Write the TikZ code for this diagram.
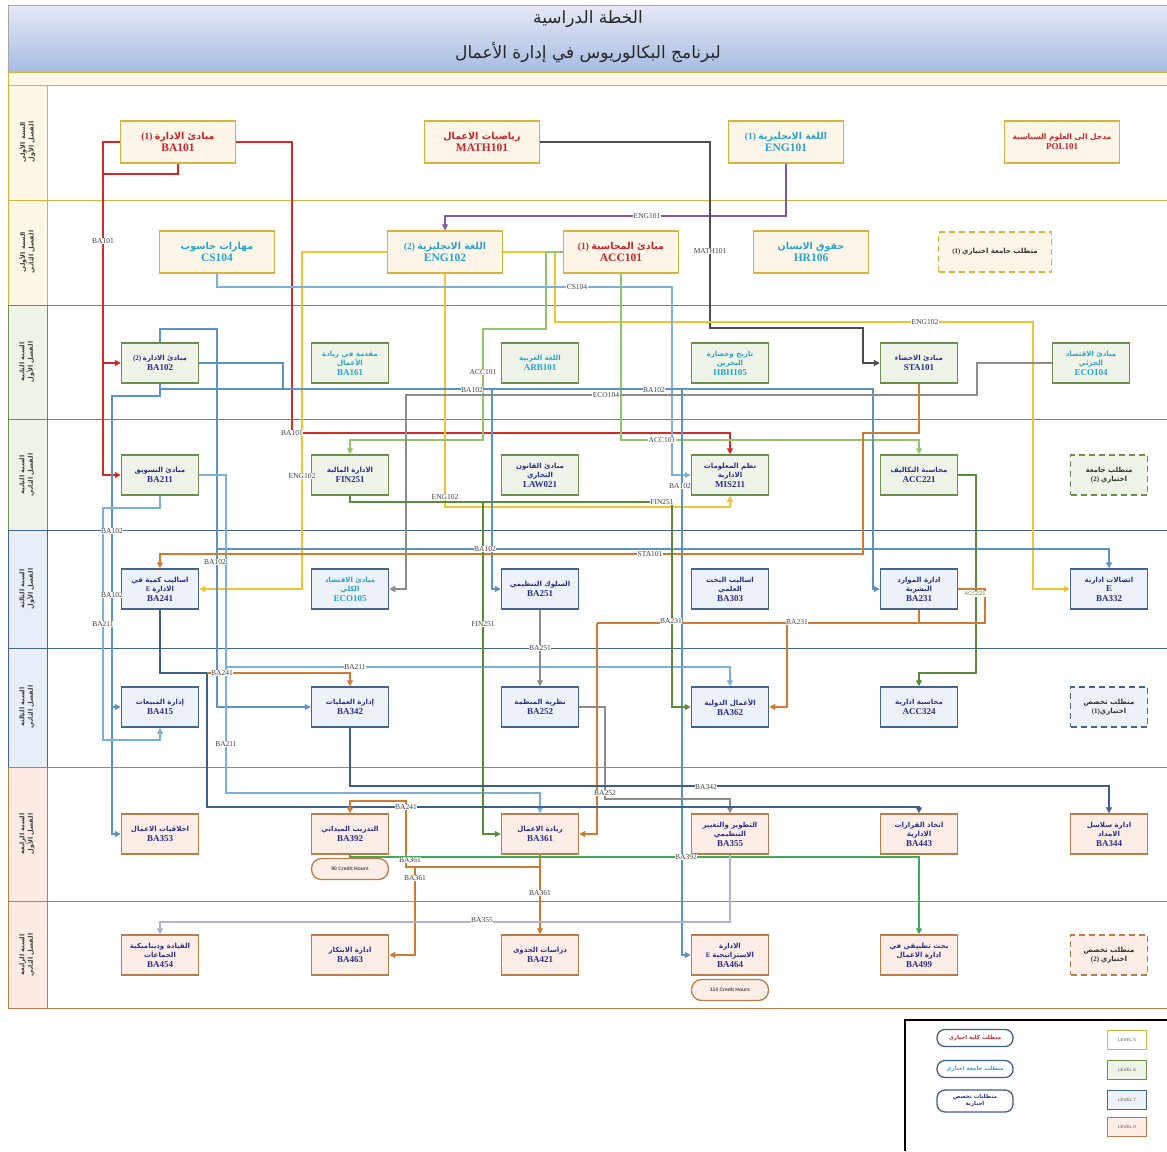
\documentclass[tikz,border=0pt]{standalone}
\usepackage{fontspec}
\setmainfont{Liberation Serif}
\newfontfamily\arfont[Script=Arabic]{DejaVu Sans}
\newfontfamily\lsans{Liberation Sans}
\TeXXeTstate=1
\usetikzlibrary{arrows.meta,shapes.geometric}
\newcommand{\arb}[1]{{\arfont\beginR #1\endR}}
\newcommand{\cdB}{\fontsize{11.5}{13}\selectfont}
\newcommand{\cdS}{\fontsize{9}{10}\selectfont}
\definecolor{cRed}{HTML}{C8232B}
\definecolor{cCyan}{HTML}{29A3CC}
\definecolor{cNavy}{HTML}{2A2E8C}
\definecolor{cL5}{HTML}{D6B23E}
\definecolor{fL5}{HTML}{FDF5E7}
\definecolor{cL6}{HTML}{6D8F4E}
\definecolor{fL6}{HTML}{EEF4E7}
\definecolor{cL7}{HTML}{46658E}
\definecolor{fL7}{HTML}{EDF1F8}
\definecolor{cL8}{HTML}{B97D4C}
\definecolor{fL8}{HTML}{FCEEE6}
\definecolor{rL5}{HTML}{FEF7E6}
\definecolor{rL6}{HTML}{EDF4E7}
\definecolor{rL7}{HTML}{E7EEF7}
\definecolor{rL8}{HTML}{FBEBE4}
\definecolor{kRed}{HTML}{D42A2A}
\definecolor{kPur}{HTML}{7B5AA6}
\definecolor{kDark}{HTML}{4D4D4D}
\definecolor{kYel}{HTML}{EEC530}
\definecolor{kGrL}{HTML}{93C36A}
\definecolor{kBlL}{HTML}{7CB0D6}
\definecolor{kBlu}{HTML}{5B93C4}
\definecolor{kGray}{HTML}{8C8C8C}
\definecolor{kOra}{HTML}{D07A33}
\definecolor{kGrD}{HTML}{5B8A3A}
\definecolor{kDkB}{HTML}{3E5F88}
\definecolor{kGrn}{HTML}{3DAA55}
\definecolor{kLav}{HTML}{B7B0CC}
\definecolor{tTop}{HTML}{E6E9F5}
\definecolor{tBot}{HTML}{A6BCE2}
\tikzset{
  box/.style={rectangle, line width=1.5pt, align=center, inner sep=1pt},
  bigbox/.style={box, minimum width=115pt, minimum height=42pt, font=\fontsize{9.5}{12.5}\selectfont\bfseries},
  smbox/.style={box, minimum width=77pt, minimum height=40pt, font=\fontsize{7}{9.5}\selectfont\bfseries},
  L5/.style={draw=cL5, fill=fL5},
  L6/.style={draw=cL6, fill=fL6},
  L7/.style={draw=cL7, fill=fL7},
  L8/.style={draw=cL8, fill=fL8},
  elect/.style={dash pattern=on 6pt off 4pt, text=black!80},
  conn/.style={line width=1.3pt},
  arr/.style={conn, -{Triangle[length=6pt,width=6pt]}},
  lbl/.style={fill=white, inner sep=0.6pt, font=\fontsize{7.5}{8}\selectfont, text=black!75},
  rowlab/.style={rotate=90, align=center, font=\fontsize{6.5}{8.5}\selectfont\bfseries, text=black!75},
  pill/.style={draw=cL8, line width=1.3pt, rounded corners=10pt, fill=fL8, minimum width=77pt, minimum height=21pt, inner sep=0pt, font=\lsans\fontsize{5}{6}\selectfont\bfseries, text=black!70},
  lpill/.style={draw=kDkB, line width=1.3pt, rounded corners=8pt, fill=white, minimum width=76pt, minimum height=17pt, inner sep=0pt, align=center, font=\fontsize{5.5}{7}\selectfont\bfseries},
  lvl/.style={line width=1.3pt, minimum width=39pt, minimum height=19pt, inner sep=0pt, font=\lsans\fontsize{4.5}{5}\selectfont, text=black!65}
}
\begin{document}
\begin{tikzpicture}[x=1pt,y=-1pt]
\useasboundingbox (0,0) rectangle (1167,1151);
\fill[white] (0,0) rectangle (1167,1151);
% title band
\shade[top color=tTop, bottom color=tBot] (8,5) rectangle (1167,72);
\draw[black!35, line width=0.8pt] (8,72) -- (8,5) -- (1167,5);
\node[font=\fontsize{17}{19}\selectfont, text=black!85] (t1) at (588,19) {\arb{الخطة الدراسية}};
\node[font=\fontsize{17}{19}\selectfont, text=black!85] (t2) at (588,52) {\arb{لبرنامج البكالوريوس في إدارة الأعمال}};
% cream strip
\filldraw[fill=rL5, draw=cL5, line width=0.8pt] (8,72) rectangle (1167,85);
% row label cells
\filldraw[fill=rL5, draw=cL5, line width=0.8pt] (8,85) rectangle (47,200);
\filldraw[fill=rL5, draw=cL5, line width=0.8pt] (8,200) rectangle (47,305);
\filldraw[fill=rL6, draw=cL6, line width=0.8pt] (8,305) rectangle (47,419);
\filldraw[fill=rL6, draw=cL6, line width=0.8pt] (8,419) rectangle (47,530);
\filldraw[fill=rL7, draw=cL7, line width=0.8pt] (8,530) rectangle (47,648);
\filldraw[fill=rL7, draw=cL7, line width=0.8pt] (8,648) rectangle (47,767);
\filldraw[fill=rL8, draw=cL8, line width=0.8pt] (8,767) rectangle (47,901);
\filldraw[fill=rL8, draw=cL8, line width=0.8pt] (8,901) rectangle (47,1008);
% row lines
\draw[cL5, line width=0.9pt] (47,200) -- (1167,200);
\draw[cL6, line width=0.9pt] (47,305) -- (1167,305);
\draw[cL6, line width=0.9pt] (47,419) -- (1167,419);
\draw[cL7, line width=0.9pt] (47,530) -- (1167,530);
\draw[cL7, line width=0.9pt] (47,648) -- (1167,648);
\draw[cL8, line width=0.9pt] (47,767) -- (1167,767);
\draw[cL8, line width=0.9pt] (47,901) -- (1167,901);
\draw[cL8, line width=0.9pt] (8,1008) -- (1167,1008);
% row labels
\node[rowlab] (r1) at (27,142) {\arb{السنة الأولى}\\\arb{الفصل الأول}};
\node[rowlab] (r2) at (27,252) {\arb{السنة الأولى}\\\arb{الفصل الثاني}};
\node[rowlab] (r3) at (27,362) {\arb{السنة الثانية}\\\arb{الفصل الأول}};
\node[rowlab] (r4) at (27,475) {\arb{السنة الثانية}\\\arb{الفصل الثاني}};
\node[rowlab] (r5) at (27,589) {\arb{السنة الثالثة}\\\arb{الفصل الأول}};
\node[rowlab] (r6) at (27,707) {\arb{السنة الثالثة}\\\arb{الفصل الثاني}};
\node[rowlab] (r7) at (27,834) {\arb{السنة الرابعة}\\\arb{الفصل الأول}};
\node[rowlab] (r8) at (27,955) {\arb{السنة الرابعة}\\\arb{الفصل الثاني}};
% ---- row 1
\node[bigbox,L5,text=cRed] (BA101) at (178,142) {(1) \arb{مبادئ الادارة}\\{\cdB BA101}};
\node[bigbox,L5,text=cRed] (MATH101) at (482,142) {\arb{رياضيات الاعمال}\\{\cdB MATH101}};
\node[bigbox,L5,text=cCyan] (ENG101) at (786,142) {(1) \arb{اللغة الانجليزية}\\{\cdB ENG101}};
\node[bigbox,L5,text=cRed,font=\fontsize{7.5}{10}\selectfont\bfseries] (POL101) at (1062,142) {\arb{مدخل الى العلوم السياسية}\\{\fontsize{9}{11}\selectfont POL101}};
% ---- row 2
\node[bigbox,L5,text=cCyan] (CS104) at (217,252) {\arb{مهارات حاسوب}\\{\cdB CS104}};
\node[bigbox,L5,text=cCyan] (ENG102) at (445,252) {(2) \arb{اللغة الانجليزية}\\{\cdB ENG102}};
\node[bigbox,L5,text=cRed] (ACC101) at (621,252) {(1) \arb{مبادئ المحاسبة}\\{\cdB ACC101}};
\node[bigbox,L5,text=cCyan] (HR106) at (811,252) {\arb{حقوق الانسان}\\{\cdB HR106}};
\node[bigbox,L5,elect,minimum width=113pt,minimum height=40pt,font=\fontsize{7}{9}\selectfont\bfseries] (E1) at (995,252) {(1) \arb{متطلب جامعة اختياري}};
% ---- row 3
\node[smbox,L6,text=cNavy] (BA102) at (160,363) {(2) \arb{مبادئ الادارة}\\{\cdS BA102}};
\node[smbox,L6,text=cCyan] (BA161) at (350,363) {\arb{مقدمة في ريادة}\\\arb{الأعمال}\\{\cdS BA161}};
\node[smbox,L6,text=cCyan] (ARB101) at (540,363) {\arb{اللغة العربية}\\{\cdS ARB101}};
\node[smbox,L6,text=cCyan] (HBH105) at (730,363) {\arb{تاريخ وحضارة}\\\arb{البحرين}\\{\cdS HBH105}};
\node[smbox,L6,text=cNavy] (STA101) at (919,363) {\arb{مبادئ الاحصاء}\\{\cdS STA101}};
\node[smbox,L6,text=cCyan] (ECO104) at (1091,363) {\arb{مبادئ الاقتصاد}\\\arb{الجزئي}\\{\cdS ECO104}};
% ---- row 4
\node[smbox,L6,text=cNavy] (BA211) at (160,475) {\arb{مبادئ التسويق}\\{\cdS BA211}};
\node[smbox,L6,text=cNavy] (FIN251) at (350,475) {\arb{الادارة المالية}\\{\cdS FIN251}};
\node[smbox,L6,text=cNavy] (LAW021) at (540,475) {\arb{مبادئ القانون}\\\arb{التجاري}\\{\cdS LAW021}};
\node[smbox,L6,text=cNavy] (MIS211) at (730,475) {\arb{نظم المعلومات}\\\arb{الادارية}\\{\cdS MIS211}};
\node[smbox,L6,text=cNavy] (ACC221) at (919,475) {\arb{محاسبة التكاليف}\\{\cdS ACC221}};
\node[smbox,L6,elect] (E2) at (1109,475) {\arb{متطلب جامعة}\\(2) \arb{اختياري}};
% ---- row 5
\node[smbox,L7,text=cNavy] (BA241) at (160,589) {\arb{اساليب كمية في}\\E \arb{الادارة}\\{\cdS BA241}};
\node[smbox,L7,text=cCyan] (ECO105) at (350,589) {\arb{مبادئ الاقتصاد}\\\arb{الكلي}\\{\cdS ECO105}};
\node[smbox,L7,text=cNavy] (BA251) at (540,589) {\arb{السلوك التنظيمي}\\{\cdS BA251}};
\node[smbox,L7,text=cNavy] (BA303) at (730,589) {\arb{اساليب البحث}\\\arb{العلمي}\\{\cdS BA303}};
\node[smbox,L7,text=cNavy] (BA231) at (919,589) {\arb{ادارة الموارد}\\\arb{البشرية}\\{\cdS BA231}};
\node[smbox,L7,text=cNavy] (BA332) at (1109,589) {\arb{اتصالات ادارية}\\{\cdS E}\\{\cdS BA332}};
% ---- row 6
\node[smbox,L7,text=cNavy] (BA415) at (160,707) {\arb{إدارة المبيعات}\\{\cdS BA415}};
\node[smbox,L7,text=cNavy] (BA342) at (350,707) {\arb{إدارة العمليات}\\{\cdS BA342}};
\node[smbox,L7,text=cNavy] (BA252) at (540,707) {\arb{نظرية المنظمة}\\{\cdS BA252}};
\node[smbox,L7,text=cNavy] (BA362) at (730,707) {\arb{الأعمال الدولية}\\{\cdS BA362}};
\node[smbox,L7,text=cNavy] (ACC324) at (919,707) {\arb{محاسبة ادارية}\\{\cdS ACC324}};
\node[smbox,L7,elect] (E3) at (1109,707) {\arb{متطلب تخصص}\\(1)\arb{اختياري}};
% ---- row 7
\node[smbox,L8,text=cNavy] (BA353) at (160,834) {\arb{اخلاقيات الاعمال}\\{\cdS BA353}};
\node[smbox,L8,text=cNavy] (BA392) at (350,834) {\arb{التدريب الميداني}\\{\cdS BA392}};
\node[smbox,L8,text=cNavy] (BA361) at (540,834) {\arb{ريادة الاعمال}\\{\cdS BA361}};
\node[smbox,L8,text=cNavy] (BA355) at (730,834) {\arb{التطوير والتغيير}\\\arb{التنظيمي}\\{\cdS BA355}};
\node[smbox,L8,text=cNavy] (BA443) at (919,834) {\arb{اتخاذ القرارات}\\\arb{الادارية}\\{\cdS BA443}};
\node[smbox,L8,text=cNavy] (BA344) at (1109,834) {\arb{ادارة سلاسل}\\\arb{الامداد}\\{\cdS BA344}};
\node[pill] (CH90) at (350,869) {90 Credit Hours};
% ---- row 8
\node[smbox,L8,text=cNavy] (BA454) at (160,955) {\arb{القيادة وديناميكية}\\\arb{الجماعات}\\{\cdS BA454}};
\node[smbox,L8,text=cNavy] (BA463) at (350,955) {\arb{ادارة الابتكار}\\{\cdS BA463}};
\node[smbox,L8,text=cNavy] (BA421) at (540,955) {\arb{دراسات الجدوى}\\{\cdS BA421}};
\node[smbox,L8,text=cNavy] (BA464) at (730,955) {\arb{الادارة}\\E \arb{الاستراتيجية}\\{\cdS BA464}};
\node[smbox,L8,text=cNavy] (BA499) at (919,955) {\arb{بحث تطبيقي في}\\\arb{ادارة الاعمال}\\{\cdS BA499}};
\node[smbox,L8,elect] (E4) at (1109,955) {\arb{متطلب تخصص}\\(2) \arb{اختياري}};
\node[pill] (CH114) at (730,990) {114 Credit Hours};
% ---- connectors
\draw[arr,kRed] (BA101.west) -| (103,363) -- (BA102.west);
\draw[arr,kRed] (103,363) |- (BA211.west);
\draw[conn,kRed] (BA101.south) |- (103,174);
\draw[arr,kRed] (BA101.east) -| (292,433) -| (MIS211.north);
\draw[arr,kPur] (ENG101.south) |- (445,216) -- (ENG102.north);
\draw[arr,kDark] (MATH101.east) -| (710,328) -| (863,363) -- (STA101.west);
\draw[arr,kYel] (ENG102.west) -| (302,589) -- (BA241.east);
\draw[arr,kYel] (ENG102.south) |- (730,507) -- (MIS211.south);
\draw[arr,kYel] (ENG102.east) -| (555,322) -| (1033,589) -- (BA332.west);
\draw[arr,kGrL] (ACC101.south) |- (919,440) -- (ACC221.north);
\draw[arr,kGrL] (ACC101.west) -| (546,329) -| (483,440) -| (FIN251.north);
\draw[arr,kBlL] (CS104.south) |- (672,287) |- (MIS211.west);
\draw[arr,kBlu] (BA102.east) -| (283,389) -| (873,589) -- (BA231.west);
\draw[conn,kBlu] (BA102.south) |- (283,389);
\draw[arr,kBlu] (492,389) |- (BA251.west);
\draw[arr,kBlu] (682,389) |- (BA464.west);
\draw[arr,kBlu] (BA102.north) |- (217,329) |- (BA342.west);
\draw[arr,kBlu] (217,549) -| (BA332.north);
\draw[arr,kBlu] (160,389) |- (112,396) |- (BA353.west);
\draw[arr,kBlu] (112,707) -- (BA415.west);
\draw[arr,kBlL] (BA211.south) |- (103,508) |- (160,740) -- (BA415.south);
\draw[arr,kBlL] (BA211.east) -| (226,667) -| (BA362.north);
\draw[arr,kBlL] (226,667) |- (540,793) -- (BA361.north);
\draw[arr,kGray] (ECO104.west) -| (977,395) -| (406,589) -- (ECO105.east);
\draw[arr,kOra] (STA101.south) |- (863,433) |- (160,554) -- (BA241.north);
\draw[arr,kGrD] (ACC221.east) -| (976,673) -| (ACC324.north);
\draw[conn,kOra] (BA231.south) |- (597,623);
\draw[conn,kOra] (BA231.east) -| (985,623) -- (919,623);
\draw[arr,kOra] (787,623) |- (BA362.east);
\draw[arr,kOra] (597,623) |- (BA361.east);
\draw[arr,kGray] (BA251.south) -- (BA252.north);
\draw[arr,kGray] (BA252.east) -| (605,799) -| (BA355.north);
\draw[arr,kGrD] (FIN251.south) |- (672,502) |- (BA362.west);
\draw[arr,kGrD] (483,502) |- (BA361.west);
\draw[arr,kDkB] (BA241.south) |- (207,673) |- (919,807) -- (BA443.north);
\draw[arr,kOra] (207,673) -| (BA342.north);
\draw[arr,kDkB] (BA342.south) |- (1109,786) -- (BA344.north);
\draw[arr,kOra] (BA361.south) |- (406,867) |- (350,801) -- (BA392.north);
\draw[arr,kOra] (415,867) |- (BA463.east);
\draw[arr,kOra] (BA361.south) -- (BA421.north);
\draw[arr,kGrn] (BA392.south) |- (919,857) -- (BA499.north);
\draw[arr,kLav] (BA355.south) |- (160,922) -- (BA454.north);
% ---- connector labels
\node[lbl] (l1) at (103,241) {BA101};
\node[lbl] (l2) at (292,433) {BA101};
\node[lbl] (l3) at (647,216) {ENG101};
\node[lbl] (l4) at (710,251) {MATH101};
\node[lbl] (l5) at (302,476) {ENG102};
\node[lbl] (l6) at (445,497) {ENG102};
\node[lbl] (l7) at (925,322) {ENG102};
\node[lbl] (l8) at (662,440) {ACC101};
\node[lbl] (l9) at (483,372) {ACC101};
\node[lbl] (l10) at (577,287) {CS104};
\node[lbl] (l11) at (472,390) {BA102};
\node[lbl] (l12) at (654,390) {BA102};
\node[lbl] (l13) at (680,486) {BA102};
\node[lbl] (l14) at (215,562) {BA102};
\node[lbl] (l15) at (485,549) {BA102};
\node[lbl] (l16) at (112,531) {BA102};
\node[lbl] (l17) at (112,595) {BA102};
\node[lbl] (l18) at (103,624) {BA211};
\node[lbl] (l19) at (355,667) {BA211};
\node[lbl] (l20) at (226,744) {BA211};
\node[lbl] (l21) at (606,395) {ECO104};
\node[lbl] (l22) at (650,554) {STA101};
\node[lbl,font=\lsans\fontsize{5.5}{6}\selectfont,text=kGrD] (l23) at (975,594) {ACC221};
\node[lbl] (l24) at (671,621) {BA231};
\node[lbl] (l25) at (797,622) {BA231};
\node[lbl] (l26) at (540,648) {BA251};
\node[lbl] (l27) at (605,793) {BA252};
\node[lbl] (l28) at (662,502) {FIN251};
\node[lbl] (l29) at (483,624) {FIN251};
\node[lbl] (l30) at (222,673) {BA241};
\node[lbl] (l31) at (406,807) {BA241};
\node[lbl] (l32) at (706,787) {BA342};
\node[lbl] (l33) at (410,860) {BA361};
\node[lbl] (l34) at (415,878) {BA361};
\node[lbl] (l35) at (540,893) {BA361};
\node[lbl] (l36) at (686,857) {BA392};
\node[lbl] (l37) at (482,920) {BA355};
% ---- legend
\draw[black, line width=1.6pt] (905,1151) -- (905,1020) -- (1167,1020);
\node[lpill,text=cRed] (P1) at (975,1038) {\arb{متطلب كلية اجباري}};
\node[lpill,text=cCyan] (P2) at (975,1069) {\arb{متطلب جامعة اجباري}};
\node[lpill,text=cNavy,minimum height=22pt] (P3) at (975,1101) {\arb{متطلبات تخصص}\\\arb{اجبارية}};
\node[lvl,draw=cL5,fill=white] (LV5) at (1127,1040) {LEVEL 5};
\node[lvl,draw=cL6,fill=fL6] (LV6) at (1127,1070) {LEVEL 6};
\node[lvl,draw=cL7,fill=fL7] (LV7) at (1127,1100) {LEVEL 7};
\node[lvl,draw=cL8,fill=fL8] (LV8) at (1127,1127) {LEVEL 8};
\end{tikzpicture}
\end{document}
